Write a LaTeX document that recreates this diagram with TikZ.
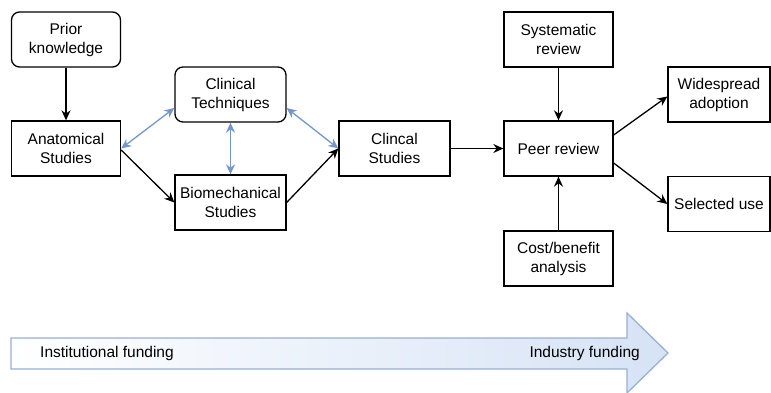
\documentclass[tikz,border=0pt]{standalone}
\usepackage{fontspec}
\setmainfont{Liberation Sans}
\usetikzlibrary{arrows.meta,calc}
\definecolor{blu}{HTML}{7396CB}
\definecolor{arrline}{HTML}{9AAFD2}
\definecolor{arrfill}{HTML}{D6E3F5}
\begin{document}
\begin{tikzpicture}[x=1pt,y=-1pt,
  box/.style={draw=black,line width=1.3pt,minimum width=109pt,minimum height=55pt,inner sep=0pt,align=center,font=\fontsize{15.5}{19}\selectfont},
  rbox/.style={box,rounded corners=8pt},
  blk/.style={draw=black,line width=1.3pt,-{Stealth[length=10pt,width=9pt]}},
  bl/.style={draw=blu,line width=1.3pt,{Stealth[length=10pt,width=9pt]}-{Stealth[length=10pt,width=9pt]}},
  lbl/.style={font=\fontsize{15.5}{19}\selectfont,inner sep=0pt}]
\useasboundingbox (0,0) rectangle (771,393);
% funding arrow
\path[left color=white,right color=arrfill,draw=arrline,line width=1.3pt]
  (11,338) -- (627,338) -- (627,313) -- (668,353) -- (627,393) -- (627,369) -- (11,369) -- cycle;
\node[lbl,anchor=west] (inst) at (40,353) {Institutional funding};
\node[lbl,anchor=east] (indu) at (640,353) {Industry funding};
% nodes
\node[rbox] (prior) at (66,39.5) {Prior\\knowledge};
\node[box] (anat) at (66,148.5) {Anatomical\\Studies};
\node[rbox,minimum width=111pt] (ct) at (230.5,94.5) {Clinical\\Techniques};
\node[box,minimum width=111pt] (bio) at (230.5,202.5) {Biomechanical\\Studies};
\node[box,minimum width=111pt] (cs) at (394.5,148.5) {Clincal\\Studies};
\node[box] (peer) at (558.5,148.5) {Peer review};
\node[box] (sys) at (558.5,39.5) {Systematic\\review};
\node[box] (cost) at (558.5,258.5) {Cost/benefit\\analysis};
\node[box,minimum width=102pt] (wide) at (719,94.5) {Widespread\\adoption};
\node[box,minimum width=102pt] (sel) at (719,204) {Selected use};
% connectors
\draw[blk] (prior) -- (anat);
\draw[bl] (anat.east) -- ([yshift=-13.5pt]ct.west);
\draw[blk] ([yshift=-1.5pt]anat.east) -- (bio.west);
\draw[bl] (ct) -- (bio);
\draw[bl] ([yshift=-13.5pt]ct.east) -- (cs.west);
\draw[blk] (bio.east) -- (cs.west);
\draw[blk] (cs) -- (peer);
\draw[blk] (sys) -- (peer);
\draw[blk] (cost) -- (peer);
\draw[blk] ([yshift=13.5pt]peer.east) -- ([yshift=-2pt]wide.west);
\draw[blk] ([yshift=-14.5pt]peer.east) -- (sel.west);
\end{tikzpicture}
\end{document}
